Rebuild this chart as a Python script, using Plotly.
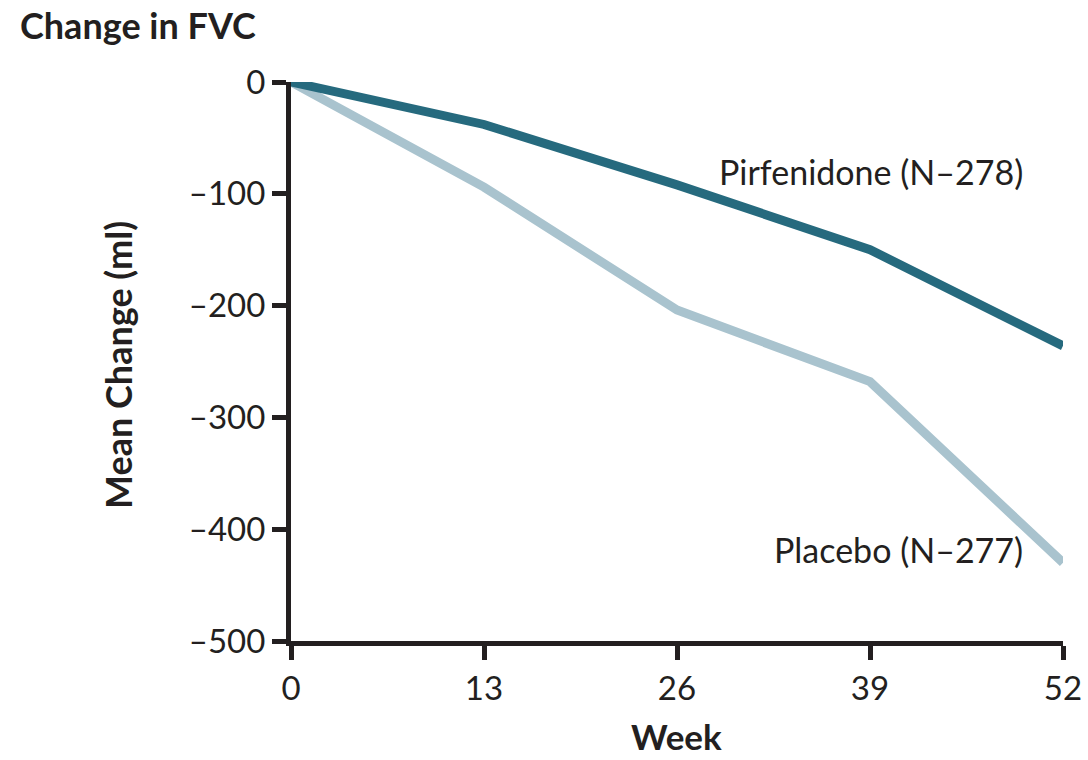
import plotly.graph_objects as go

weeks = [0, 13, 26, 39, 52]
pirfenidone = [0, -38, -92, -150, -236]
placebo = [0, -94, -204, -268, -430]
x_ticks = [0, 13, 26, 39, 52]
y_ticks = [0, -100, -200, -300, -400, -500]
y_tick_text = ["0", "\u2013100", "\u2013200", "\u2013300", "\u2013400", "\u2013500"]

FONT = "Lato"
AX = "#231f20"

fig = go.Figure()
fig.add_trace(go.Scatter(x=weeks, y=placebo, mode="lines",
                         line=dict(color="#a9c3ce", width=9), cliponaxis=False,
                         showlegend=False))
fig.add_trace(go.Scatter(x=weeks, y=pirfenidone, mode="lines",
                         line=dict(color="#266a7e", width=9), cliponaxis=False,
                         showlegend=False))

fig.update_layout(
    width=1088, height=760,
    margin=dict(l=291, r=25, t=82, b=119, autoexpand=False),
    paper_bgcolor="white", plot_bgcolor="white",
    font=dict(family=FONT, color=AX, size=33),
    title=dict(text="<b>Change in FVC</b>", x=20/1088, xanchor="left",
               xref="container", yref="container", y=1-26/760, yanchor="middle",
               font=dict(size=36, family=FONT, color=AX)),
    xaxis=dict(range=[0, 52], tickvals=x_ticks, ticktext=[str(v) for v in x_ticks],
               showgrid=False, zeroline=False, showline=True, linecolor=AX, linewidth=5,
               ticks="outside", ticklen=14, tickwidth=5, tickcolor=AX,
               tickfont=dict(size=33, family=FONT, color=AX)),
    yaxis=dict(range=[-500, 0], tickvals=y_ticks, ticktext=y_tick_text,
               showgrid=False, zeroline=False, showline=True, linecolor=AX, linewidth=5,
               ticks="outside", ticklen=14, tickwidth=5, tickcolor=AX,
               tickfont=dict(size=33, family=FONT, color=AX)),
    annotations=[
        dict(text="<b>Mean Change (ml)</b>", xref="paper", yref="paper",
             x=(118-291)/772, y=(641-365)/559, textangle=-90, showarrow=False,
             xanchor="center", yanchor="middle", font=dict(size=36, family=FONT, color=AX)),
        dict(text="<b>Week</b>", xref="paper", yref="paper",
             x=(676-291)/772, y=(641-736)/559, showarrow=False, borderpad=0,
             xanchor="center", yanchor="middle", font=dict(size=35, family=FONT, color=AX)),
        dict(text="Pirfenidone (N\u2013278)", xref="x", yref="y",
             x=(1025-291)/772*52, y=-(171-82)/559*500, showarrow=False,
             xanchor="right", yanchor="middle", font=dict(size=34, family=FONT, color=AX)),
        dict(text="Placebo (N\u2013277)", xref="x", yref="y",
             x=(1025-291)/772*52, y=-(549-82)/559*500, showarrow=False,
             xanchor="right", yanchor="middle", font=dict(size=34, family=FONT, color=AX)),
    ],
)

fig.write_html("out.html", config={"displayModeBar": False},
               post_script="document.body.style.margin='0px';document.body.style.overflow='hidden';")
